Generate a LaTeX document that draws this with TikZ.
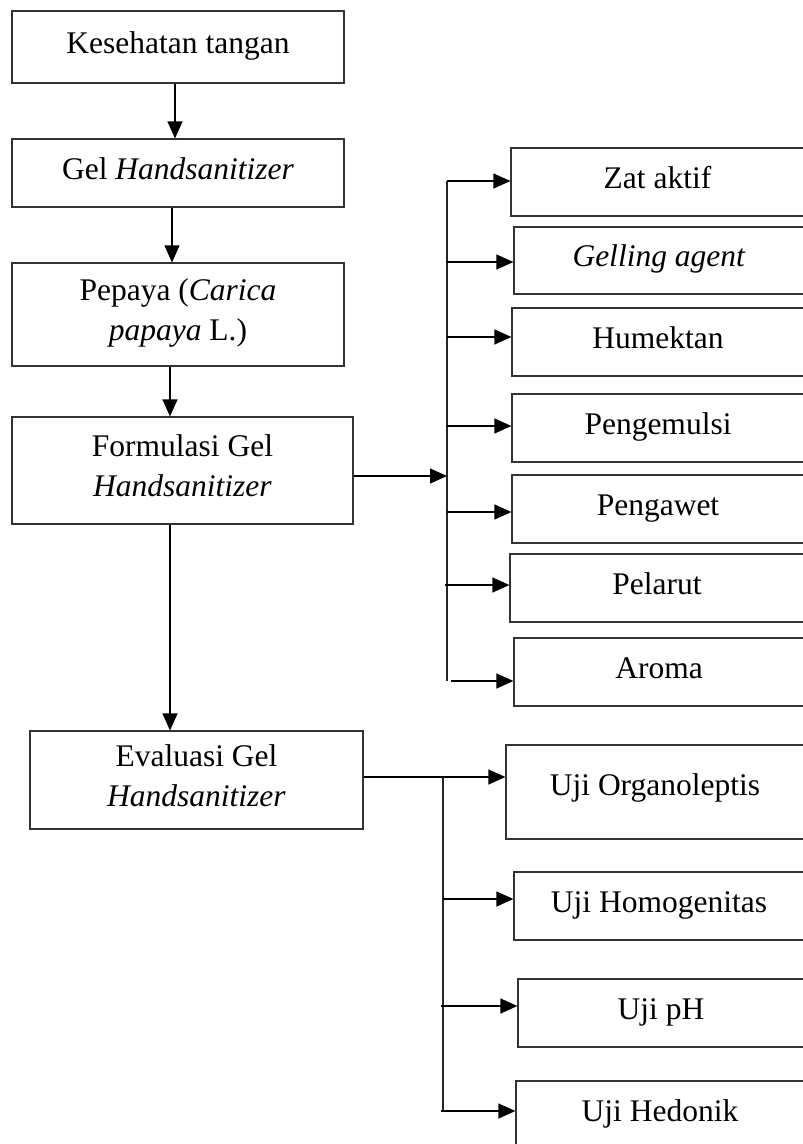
\documentclass[tikz,border=0pt]{standalone}
\usepackage{fontspec}
\setmainfont{Liberation Serif}
\usetikzlibrary{arrows.meta}
\newcommand{\ms}{\rule[-10pt]{0pt}{32pt}}
\newcommand{\mt}{\rule[-15pt]{0pt}{30pt}}
\begin{document}
\begin{tikzpicture}[x=1pt,y=-1pt,
  bx/.style={draw=black!80, line width=1.2pt, inner sep=0pt,
    font=\fontsize{31.5}{40}\selectfont, align=center},
  arr/.style={draw=black, line width=1.2pt, -{Triangle[length=17pt,width=15pt]}},
  ln/.style={draw=black!85, line width=1.2pt}]
\useasboundingbox (0,0) rectangle (803,1144);
\clip (0,0) rectangle (803,1144);
% left column
\node[bx, minimum width=332pt, minimum height=72pt] (k) at (178,47) {\ms Kesehatan tangan};
\node[bx, minimum width=332pt, minimum height=68pt] (g) at (178,173) {\ms Gel \textit{Handsanitizer}};
\node[bx, minimum width=332pt, minimum height=103pt] (p) at (178,314.5) {\ms Pepaya (\textit{Carica}\\\ms\textit{papaya} L.)};
\node[bx, minimum width=341pt, minimum height=107pt] (f) at (182.5,470.5) {\ms Formulasi Gel\\\ms\textit{Handsanitizer}};
\node[bx, minimum width=333pt, minimum height=98pt] (ev) at (196.5,780) {\ms Evaluasi Gel\\\ms\textit{Handsanitizer}};
% right column (formulation)
\node[bx, minimum width=293pt, minimum height=68pt] (za) at (657.5,182) {\ms Zat aktif};
\node[bx, minimum width=290pt, minimum height=67pt] (ga) at (659,260.5) {\ms\textit{Gelling agent}};
\node[bx, minimum width=292pt, minimum height=68pt] (hu) at (658,342) {\ms Humektan};
\node[bx, minimum width=292pt, minimum height=68pt] (pe) at (658,428) {\ms Pengemulsi};
\node[bx, minimum width=292pt, minimum height=68pt] (pw) at (658,509) {\ms Pengawet};
\node[bx, minimum width=294pt, minimum height=68pt] (pl) at (657,588) {\ms Pelarut};
\node[bx, minimum width=290pt, minimum height=68pt] (ar) at (659,672) {\ms Aroma};
% right column (evaluation)
\node[bx, minimum width=298pt, minimum height=94pt] (or) at (655,792) {\mt Uji Organoleptis};
\node[bx, minimum width=290pt, minimum height=68pt] (ho) at (659,906) {\ms Uji Homogenitas};
\node[bx, minimum width=286pt, minimum height=68pt] (ph) at (661,1013) {\ms Uji pH};
\node[bx, minimum width=288pt, minimum height=68pt] (he) at (660,1115) {\ms Uji Hedonik};
% main column arrows
\coordinate (c1) at (175,0);
\coordinate (c2) at (172,0);
\coordinate (c3) at (170,0);
\draw[arr] (k.south -| c1) -- (g.north -| c1);
\draw[arr] (g.south -| c2) -- (p.north -| c2);
\draw[arr] (p.south -| c3) -- (f.north -| c3);
\draw[arr] (f.south -| c3) -- (ev.north -| c3);
% formulation bus
\coordinate (b1) at (447,181);
\coordinate (b2) at (447,262);
\coordinate (b3) at (447,337);
\coordinate (b4) at (447,426);
\coordinate (b5) at (447,512);
\coordinate (b6) at (445,585);
\coordinate (b7) at (451,681);
\coordinate (bend) at (447,681);
\coordinate (fin) at (447,476);
\draw[ln] (b1) -- (bend);
\draw[arr] (fin -| f.east) -- (fin);
\draw[arr] (b1) -- (b1 -| za.west);
\draw[arr] (b2) -- (b2 -| ga.west);
\draw[arr] (b3) -- (b3 -| hu.west);
\draw[arr] (b4) -- (b4 -| pe.west);
\draw[arr] (b5) -- (b5 -| pw.west);
\draw[arr] (b6) -- (b6 -| pl.west);
\draw[arr] (b7) -- (b7 -| ar.west);
% evaluation bus
\coordinate (e1) at (443,777);
\coordinate (e2) at (443,899);
\coordinate (e3) at (441,1006);
\coordinate (e4) at (441,1111);
\coordinate (eend) at (443,1111);
\draw[ln] (e1) -- (eend);
\draw[arr] (e1 -| ev.east) -- (e1 -| or.west);
\draw[arr] (e2) -- (e2 -| ho.west);
\draw[arr] (e3) -- (e3 -| ph.west);
\draw[arr] (e4) -- (e4 -| he.west);
\end{tikzpicture}
\end{document}
